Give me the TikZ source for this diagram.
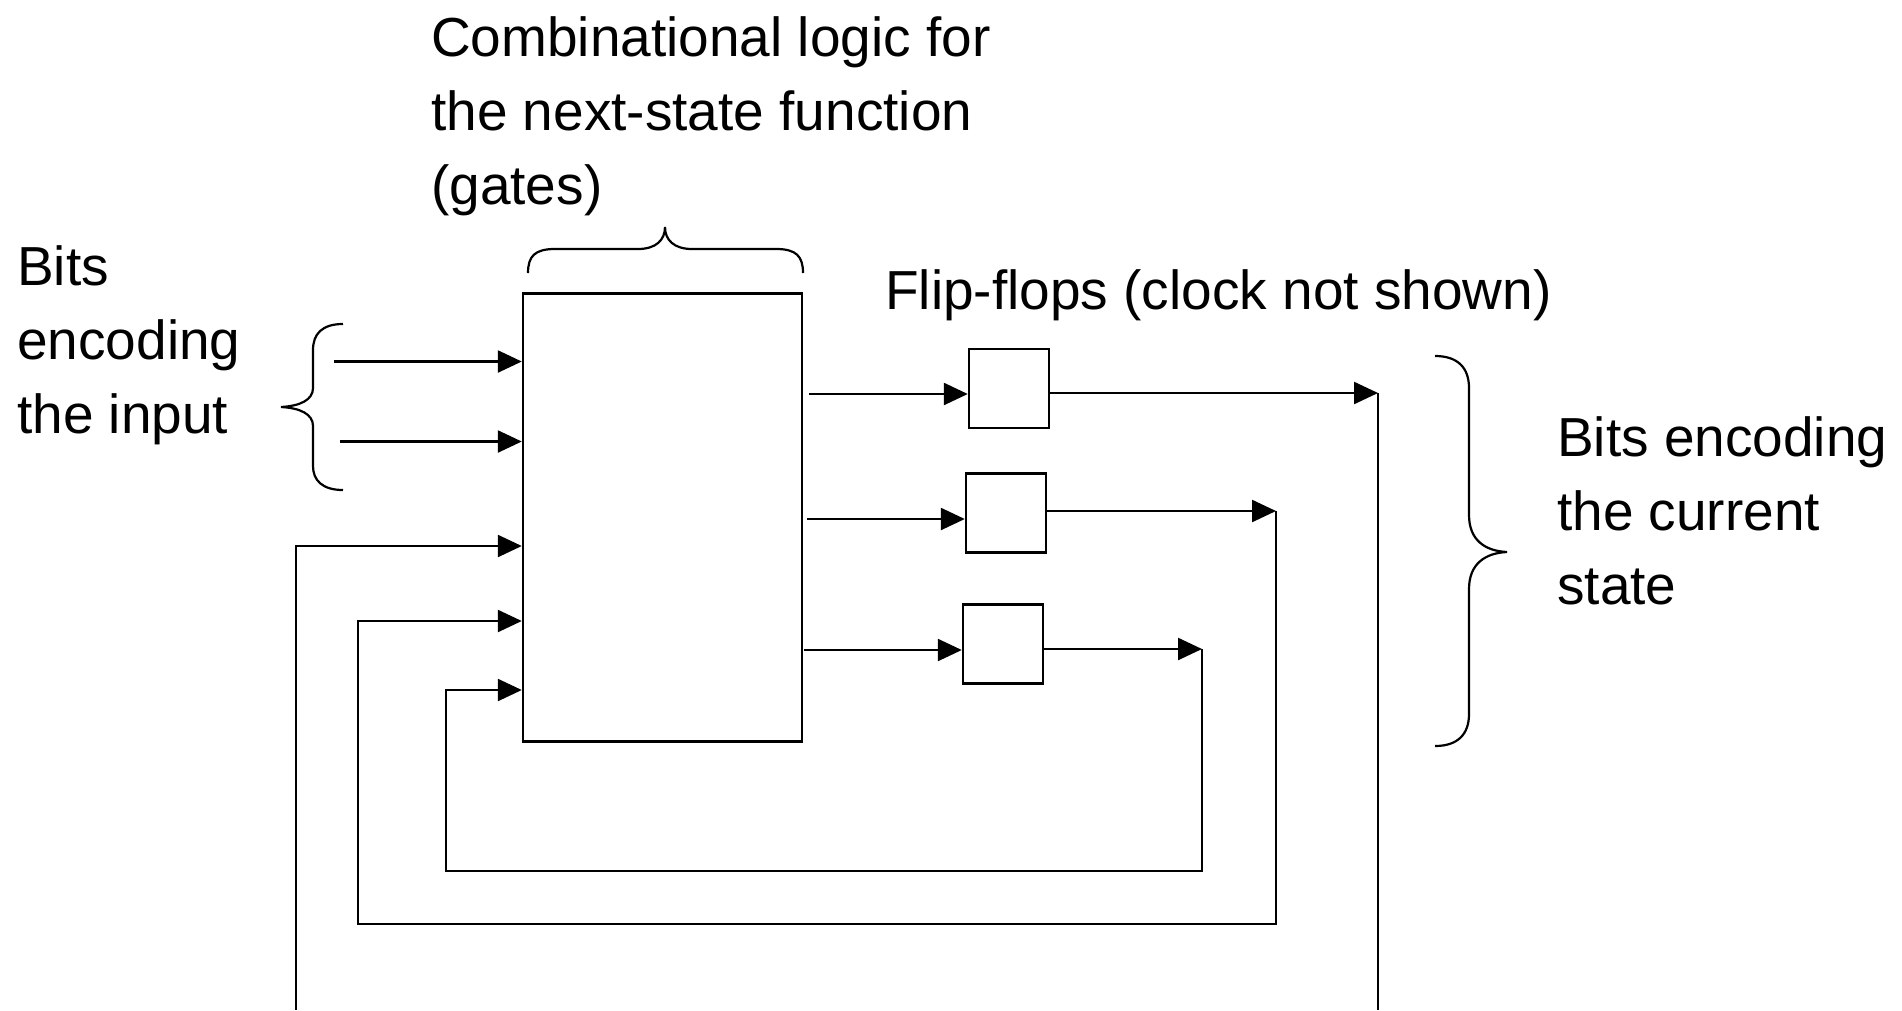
\documentclass[tikz,border=0pt]{standalone}
\usepackage{fontspec}
\setmainfont{Liberation Sans}
\usetikzlibrary{arrows.meta}
\tikzset{
  wire/.style={line width=2.4pt},
  sig/.style={wire,-{Triangle[length=24pt,width=22pt]}},
  blockbox/.style={draw,line width=2.4pt,inner sep=0pt,minimum width=279pt,minimum height=448pt},
  ffbox/.style={draw,line width=2.4pt,inner sep=0pt,minimum width=80pt,minimum height=79pt},
  label/.style={inner sep=0pt,align=left,anchor=base west,font=\fontsize{55}{74}\selectfont},
  bracepath/.style={line width=2.2pt}
}
\begin{document}
\begin{tikzpicture}[x=1pt,y=-1pt]
  \useasboundingbox (0,0) rectangle (1902,1010);

  % combinational logic and flip-flops
  \node[blockbox] (logic) at (662.5,517.5) {};
  \node[ffbox] (ff1) at (1009,388.5) {};
  \node[ffbox] (ff2) at (1006,513) {};
  \node[ffbox] (ff3) at (1003,644) {};

  % labels (anchored at the baseline of their last line)
  \node[label] (title) at (431,204) {Combinational logic for\\the next-state function\\(gates)};
  \node[label] (inlabel) at (17,433) {Bits\\encoding\\the input};
  \node[label] (fflabel) at (885,309) {Flip-flops (clock not shown)};
  \node[label] (statelabel) at (1557,604) {Bits encoding\\the current\\state};

  % braces
  \draw[bracepath] (528,273) .. controls (528,256) and (535,249) .. (555,249) -- (638,249)
    .. controls (656,249) and (665,240) .. (665,227)
    .. controls (665,240) and (674,249) .. (692,249) -- (776,249)
    .. controls (796,249) and (803,256) .. (803,273);
  \draw[bracepath] (343,324) .. controls (322,324) and (313,334) .. (313,350) -- (313,388)
    .. controls (313,400) and (300,406) .. (281,407)
    .. controls (300,408) and (313,414) .. (313,426) -- (313,466)
    .. controls (313,480) and (322,490) .. (343,490);
  \draw[bracepath] (1435,356) .. controls (1458,356) and (1469,368) .. (1469,388) -- (1469,515)
    .. controls (1469,540) and (1485,551) .. (1507,552)
    .. controls (1485,553) and (1469,564) .. (1469,589) -- (1469,714)
    .. controls (1469,734) and (1458,746) .. (1435,746);

  % input bits
  \coordinate (in1) at (334,361.5);
  \coordinate (in2) at (340,441.5);
  \draw[sig] (in1) -- (logic.west |- in1);
  \draw[sig] (in2) -- (logic.west |- in2);

  % next-state outputs into the flip-flops
  \coordinate (o1) at (809,394);
  \coordinate (o2) at (807,519);
  \coordinate (o3) at (804,650);
  \draw[sig] (o1) -- (ff1.west |- o1);
  \draw[sig] (o2) -- (ff2.west |- o2);
  \draw[sig] (o3) -- (ff3.west |- o3);

  % current-state bits
  \coordinate (r1) at (1378,393);
  \coordinate (r2) at (1276,511);
  \coordinate (r3) at (1202,649);
  \draw[sig] (ff1.east |- r1) -- (r1);
  \draw[sig] (ff2.east |- r2) -- (r2);
  \draw[sig] (ff3.east |- r3) -- (r3);

  % feedback paths
  \coordinate (f1a) at (1378,1010);
  \coordinate (f1b) at (296,1010);
  \coordinate (f1) at (296,546);
  \coordinate (f2) at (358,621);
  \coordinate (f3) at (446,690);
  \draw[wire] (r1) -- (f1a);
  \draw[sig] (f1b) -- (f1) -- (logic.west |- f1);
  \draw[sig] (r2) -- (1276,924) -- (358,924) -- (f2) -- (logic.west |- f2);
  \draw[sig] (r3) -- (1202,871) -- (446,871) -- (f3) -- (logic.west |- f3);
\end{tikzpicture}
\end{document}
